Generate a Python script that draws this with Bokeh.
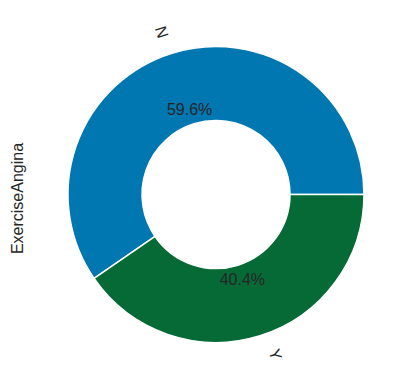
import numpy as np
from bokeh.plotting import figure
from bokeh.models import Range1d, ColumnDataSource, Label
from bokeh.core.properties import value
from bokeh.embed import file_html
from bokeh.resources import INLINE

categories = ["N", "Y"]
shares = [59.6, 40.4]
colors = ["#0177B1", "#056A36"]
y_label = "ExerciseAngina"

vals = np.array(shares, dtype=float)
frac = vals / vals.sum()
ends = np.cumsum(frac) * 2 * np.pi
starts = ends - frac * 2 * np.pi
mids = (starts + ends) / 2

PX = 148.0  # pixels per unit radius
cx, cy = 215.5, 194.0
W, H = 410, 389

p = figure(width=W, height=H, output_backend="svg", toolbar_location=None,
           x_range=Range1d(-cx / PX, (W - cx) / PX),
           y_range=Range1d(-(H - cy) / PX, cy / PX),
           min_border=0, outline_line_color=None)
p.axis.visible = False
p.grid.visible = False
p.background_fill_color = "white"
p.border_fill_color = "white"

src = ColumnDataSource(dict(start=starts, end=ends, color=colors, cat=categories))
p.annular_wedge(x=0, y=0, inner_radius=0.5, outer_radius=1.0,
                start_angle="start", end_angle="end", fill_color="color",
                line_color="white", line_width=1.5, source=src)

# percentage labels
pr = 0.6
pct = ColumnDataSource(dict(x=pr * np.cos(mids), y=pr * np.sin(mids),
                            t=[f"{v:.1f}%" for v in frac * 100]))
p.text(x="x", y="y", text="t", source=pct, text_align="center",
       text_baseline="middle", text_font=value("Liberation Sans"),
       text_font_size="16px", text_color="#262626")

# category labels, rotated radially
lr = 1.1
lx = lr * np.cos(mids)
ly = lr * np.sin(mids)
rot = np.where(lx > 0, mids, mids + np.pi)
xoff = np.where(lx > 0, 11, -6)
yoff = np.where(ly > 0, -7, 4.5)
lab = ColumnDataSource(dict(x=lx, y=ly, t=categories, a=rot, xo=xoff, yo=yoff))
p.text(x="x", y="y", text="t", angle="a", x_offset="xo", y_offset="yo",
       source=lab, text_align="center", text_baseline="middle",
       text_font=value("Liberation Sans"), text_font_size="16px",
       text_color="#262626")

p.add_layout(Label(x=(17 - cx) / PX, y=(cy - 198) / PX, text=y_label,
                   angle=np.pi / 2, text_align="center", text_baseline="middle",
                   text_font="Liberation Sans", text_font_size="16px",
                   text_color="#262626"))

open("out.html", "w").write(file_html(p, INLINE))
